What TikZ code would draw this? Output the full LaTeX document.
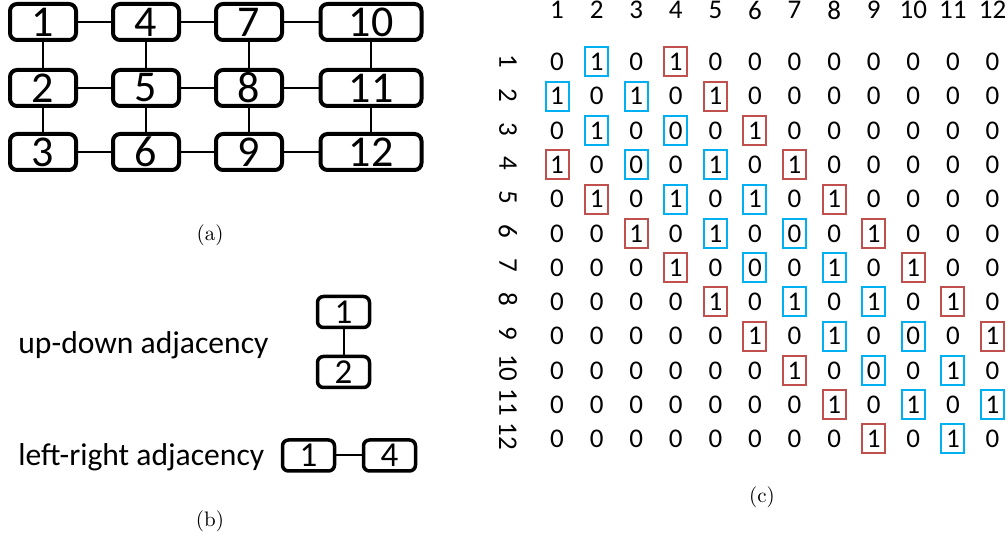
\documentclass[tikz,border=0pt]{standalone}
\usepackage{fontspec}
\newfontfamily\calib{Carlito}
\definecolor{hlred}{RGB}{192,80,77}
\definecolor{hlblue}{RGB}{0,176,240}
\begin{document}
\begin{tikzpicture}[x=0.5pt,y=-0.5pt,
  gbox/.style={draw, line width=2pt, rounded corners=3.5pt, inner sep=0pt,
    minimum height=18pt, minimum width=33pt, font=\calib\fontsize{22}{22}\selectfont},
  wide/.style={minimum width=50.5pt},
  sbox/.style={draw, line width=1.75pt, rounded corners=3pt, inner sep=0pt,
    minimum height=15.5pt, minimum width=26pt, font=\calib\fontsize{17.5}{17.5}\selectfont},
  link/.style={line width=1pt},
  cell/.style={inner sep=0pt, font=\calib\fontsize{13.5}{13.5}\selectfont},
  hl/.style={draw=#1, line width=1pt, inner sep=0pt, minimum width=11.5pt, minimum height=14.5pt},
  captxt/.style={font=\fontsize{10.5}{10.5}\selectfont},
  lbl/.style={anchor=west, inner sep=0pt, font=\calib\fontsize{15.8}{15.8}\selectfont}
]
\useasboundingbox (0,0) rectangle (1008,545);
% (a) grid
\node[gbox] (g1) at (43,22) {1};
\node[gbox] (g2) at (43,88) {2};
\node[gbox] (g3) at (43,152) {3};
\node[gbox] (g4) at (146,22) {4};
\node[gbox] (g5) at (146,88) {5};
\node[gbox] (g6) at (146,152) {6};
\node[gbox] (g7) at (249,22) {7};
\node[gbox] (g8) at (249,88) {8};
\node[gbox] (g9) at (249,152) {9};
\node[gbox,wide] (g10) at (371,22) {10};
\node[gbox,wide] (g11) at (371,88) {11};
\node[gbox,wide] (g12) at (371,152) {12};
\foreach \a/\b in {1/2,2/3,4/5,5/6,7/8,8/9,10/11,11/12,1/4,4/7,7/10,2/5,5/8,8/11,3/6,6/9,9/12}
  \draw[link] (g\a) -- (g\b);
\node[captxt] (capa) at (210,235) {(a)};
% (b)
\node[lbl] (ud) at (18,345) {up-down adjacency};
\node[sbox] (u1) at (343.5,312) {1};
\node[sbox] (u2) at (343.5,372) {2};
\draw[link] (u1) -- (u2);
\node[lbl] (lr) at (18,457) {left-right adjacency};
\node[sbox] (l1) at (308.5,455.5) {1};
\node[sbox] (l4) at (389.5,455.5) {4};
\draw[link] (l1) -- (l4);
\node[captxt] (capb) at (210,521) {(b)};
% (c) matrix
\foreach \c in {1,...,12}{
  \node[cell] (col\c) at ({557+(\c-1)*39.59},10) {\c};
  \node[cell,rotate=-90] (row\c) at (508,{61+(\c-1)*34.1}) {\c};
}
\foreach \line [count=\r] in {
  {0,1,0,1,0,0,0,0,0,0,0,0},
  {1,0,1,0,1,0,0,0,0,0,0,0},
  {0,1,0,0,0,1,0,0,0,0,0,0},
  {1,0,0,0,1,0,1,0,0,0,0,0},
  {0,1,0,1,0,1,0,1,0,0,0,0},
  {0,0,1,0,1,0,0,0,1,0,0,0},
  {0,0,0,1,0,0,0,1,0,1,0,0},
  {0,0,0,0,1,0,1,0,1,0,1,0},
  {0,0,0,0,0,1,0,1,0,0,0,1},
  {0,0,0,0,0,0,1,0,0,0,1,0},
  {0,0,0,0,0,0,0,1,0,1,0,1},
  {0,0,0,0,0,0,0,0,1,0,1,0}}{
  \foreach \v [count=\c] in \line
    \node[cell] (m-\r-\c) at ({557+(\c-1)*39.59},{62+(\r-1)*34.27}) {\v};
}
\foreach \r/\c in {1/4,2/5,3/6,4/1,4/7,5/2,5/8,6/3,6/9,7/4,7/10,8/5,8/11,9/6,9/12,10/7,11/8,12/9}
  \node[hl=hlred] (hr-\r-\c) at (m-\r-\c) {};
\foreach \r/\c in {1/2,2/1,2/3,3/2,3/4,4/3,4/5,5/4,5/6,6/5,6/7,7/6,7/8,8/7,8/9,9/8,9/10,10/9,10/11,11/10,11/12,12/11}
  \node[hl=hlblue] (hb-\r-\c) at (m-\r-\c) {};
\node[captxt] (capc) at (762,497) {(c)};
\end{tikzpicture}
\end{document}
